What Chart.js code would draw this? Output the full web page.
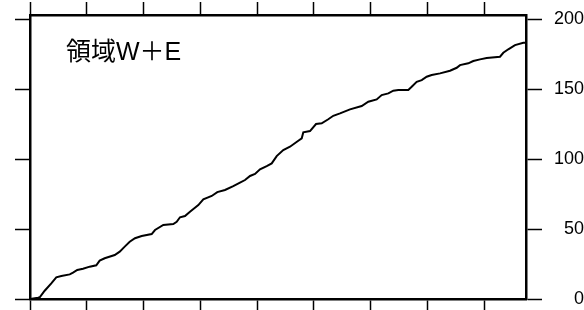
<!DOCTYPE html>
<html lang="ja">
<head>
<meta charset="UTF-8">
<title>領域W＋E</title>
<script src="https://cdn.jsdelivr.net/npm/chart.js"></script>
<style>
  body { margin: 0; background: #fff; }
  #wrap { width: 584px; height: 310px; }
</style>
</head>
<body>
<div id="wrap"><canvas id="chart" width="584" height="310"></canvas></div>
<script>
  // panel label and data
  const panelLabel = '領域W＋E';
  const xValues = [0, 1.41, 1.71, 2.59, 3.75, 4.63, 5.52, 7.0, 7.58, 8.33, 9.34, 10.52, 11.68, 12.28, 13.16,
    14.93, 15.81, 16.69, 17.57, 18.5, 19.68, 21.44, 22.03, 23.49, 25.25, 25.85, 26.43, 27.31, 28.19, 29.66,
    30.54, 32.02, 33.0, 34.36, 35.82, 37.0, 37.89, 38.77, 39.65, 40.53, 41.71, 42.59, 43.47, 44.63, 45.81,
    47.28, 47.88, 48.16, 49.34, 50.4, 51.4, 52.56, 53.44, 54.63, 56.39, 58.45, 59.61, 61.09, 61.97, 63.14,
    64.02, 64.9, 66.66, 67.26, 68.14, 69.02, 69.9, 70.78, 72.25, 74.01, 75.19, 75.77, 77.23, 78.11, 79.3,
    80.47, 82.82, 83.4, 84.28, 85.46, 86.93, 87.4];
  const yValues = [0, 0.9, 1.2, 5.9, 11.2, 15.5, 16.4, 17.6, 18.8, 20.7, 21.6, 23.1, 24.1, 27.4, 29.1,
    31.4, 33.8, 37.4, 40.9, 43.4, 45.0, 46.4, 49.3, 52.9, 53.6, 55.2, 58.4, 59.3, 62.4, 67.1,
    71.2, 73.6, 76.4, 77.9, 80.7, 83.1, 85.0, 87.9, 89.3, 92.6, 95.0, 96.9, 102.1, 106.4, 108.8,
    113.1, 114.8, 119.1, 120.0, 125.0, 125.5, 128.4, 130.9, 132.6, 135.5, 137.9, 140.9, 142.6, 145.7, 146.9,
    148.8, 149.3, 149.3, 151.6, 155.2, 156.4, 158.8, 160.0, 161.2, 163.1, 165.2, 167.1, 168.4, 170.0, 171.2,
    172.1, 173.1, 175.9, 178.4, 181.4, 183.1, 183.1];
  const xTicks = [0, 10, 20, 30, 40, 50, 60, 70, 80];
  const yTicks = [0, 50, 100, 150, 200];
  const xMax = 87.4;
  const yMax = 202.9;

  const points = xValues.map((x, i) => ({ x: x, y: yValues[i] }));

  function frameAxis(position, axis, tickLen, size, showLabels) {
    const isX = axis === 'x';
    return {
      type: 'linear',
      axis: axis,
      position: position,
      min: 0,
      max: isX ? xMax : yMax,
      afterBuildTicks: s => { s.ticks = (isX ? xTicks : yTicks).map(v => ({ value: v })); },
      afterFit: s => {
        if (isX) s.height = size; else s.width = size;
        // no extra room for labels hanging over the ends
        s.paddingTop = 0; s.paddingBottom = 0; s.paddingLeft = 0; s.paddingRight = 0;
      },
      grid: {
        drawOnChartArea: false,
        drawTicks: true,
        tickLength: tickLen,
        tickWidth: 1.5,
        color: '#000'
      },
      border: { display: true, color: '#000', width: 2.5 },
      ticks: {
        display: showLabels,
        color: '#000',
        padding: 10,
        crossAlign: 'far',
        font: { family: '"Liberation Sans", Arial, sans-serif', size: 18 },
        callback: v => v
      }
    };
  }

  // the label inside the plot, top left
  const labelPlugin = {
    id: 'panelLabel',
    afterDraw(chart) {
      const ctx = chart.ctx;
      ctx.save();
      ctx.font = '25px "Liberation Sans", "Noto Sans CJK JP", sans-serif';
      ctx.fillStyle = '#000';
      ctx.textAlign = 'left';
      ctx.textBaseline = 'middle';
      ctx.fillText(panelLabel, 66, 53);
      ctx.restore();
    }
  };

  new Chart(document.getElementById('chart'), {
    type: 'line',
    data: {
      datasets: [{
        data: points,
        borderColor: '#000',
        borderWidth: 2,
        pointRadius: 0,
        tension: 0,
        fill: false,
        xAxisID: 'x',
        yAxisID: 'y'
      }]
    },
    options: {
      responsive: false,
      animation: false,
      layout: { padding: 0 },
      plugins: {
        legend: { display: false },
        tooltip: { enabled: false }
      },
      scales: {
        x: frameAxis('bottom', 'x', 11, 11, false),
        xTop: frameAxis('top', 'x', 13, 15, false),
        y: frameAxis('left', 'y', 15, 30, false),
        yRight: frameAxis('right', 'y', 16, 58, true)
      }
    },
    plugins: [labelPlugin]
  });
</script>
</body>
</html>
